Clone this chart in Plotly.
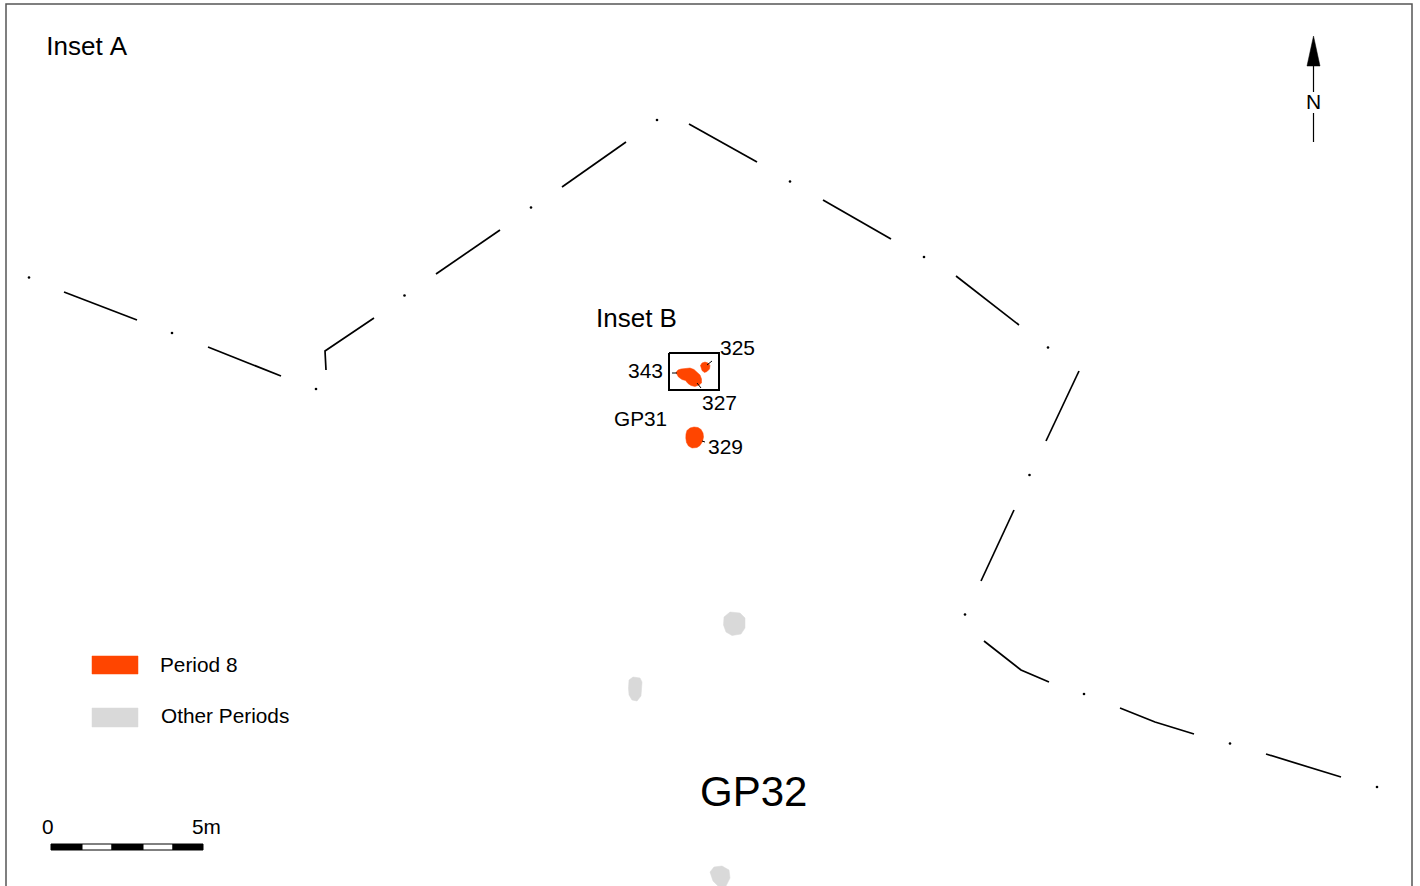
import plotly.graph_objects as go

# Map drawn in sheet units (1 unit = 1 pixel of the source plan)
wall_paths = [
    [(64, 292), (137, 320)],
    [(208, 347), (281, 376)],
    [(326, 370), (325, 351), (374, 318)],
    [(436, 274), (500, 230)],
    [(562, 187), (626, 142)],
    [(689, 124), (757, 162)],
    [(823, 200), (891, 239)],
    [(956, 276), (1019, 325)],
    [(1079, 371), (1046, 441)],
    [(1014, 510), (981, 581)],
    [(984, 641), (1021, 670), (1049, 682)],
    [(1120, 708), (1155, 722), (1194, 734)],
    [(1266, 754), (1341, 777)],
]
post_x = [29, 172, 316, 404.5, 531, 657, 790, 924, 1048, 1029.5, 965, 1084, 1230, 1377]
post_y = [277.5, 333, 389, 295.5, 207.5, 120, 181.5, 257, 347.5, 475, 614.5, 694, 743.5, 787]

period8_features = [
    [(676, 372.5), (678, 370), (681, 369), (685, 368.5), (690, 368), (694, 369.5), (697, 372), (700, 375),
     (701.5, 379), (701.5, 383), (699, 385), (695, 386.5), (691, 385.5), (688, 383.5), (685.5, 380.5),
     (682, 379.5), (678.5, 377), (677, 375)],
    [(700.5, 365.5), (702, 363), (705, 362), (708, 363), (710, 365.5), (709.5, 369), (707, 371.5),
     (704.5, 372.5), (702, 370.5)],
    [(686, 434), (687, 430.5), (690, 428), (694, 427), (698, 427.5), (701, 429.5), (703, 433), (703.5, 437),
     (702.5, 441.5), (700, 445.5), (697, 447.5), (692, 448), (688.5, 446), (686.5, 442.5), (685.8, 438)],
]
other_features = [
    [(724, 617), (730, 612), (740, 613), (745, 618), (745, 628), (741, 634), (732, 635.5), (726, 632), (723.5, 625)],
    [(629, 680), (633, 677), (640, 678), (642, 682), (641, 696), (637, 701), (632, 700), (629, 695), (628.5, 688)],
    [(710, 872), (714, 867), (722, 866), (729, 870), (730, 878), (726, 886), (718, 886), (713, 881)],
]
leaders = [
    [(672, 373), (677, 373)],
    [(697, 383), (701, 388)],
    [(707, 365), (712, 361)],
    [(702, 441), (705, 442)],
]
inset_box = [(669, 353), (719, 353), (719, 390), (669, 390), (669, 353)]
frame = [(6, 886), (6, 4), (1412, 4), (1412, 886)]

north_head = [(1313.5, 36), (1307, 66), (1320, 66)]
north_shaft = [[(1313.5, 66), (1313.5, 92)], [(1313.5, 113), (1313.5, 142)]]

legend_labels = ["Period 8", "Other Periods"]
legend_swatches = [
    [(92, 656), (138, 656), (138, 674), (92, 674)],
    [(92, 708), (138, 708), (138, 727), (92, 727)],
]
scale_edges = [51, 82, 112, 143, 173, 203]
scale_y = (844, 850)

labels = [
    ("Inset A", 47, 45.5, 26),
    ("Inset B", 596, 317.5, 26),
    ("325", 720, 347, 21),
    ("343", 628, 370, 21),
    ("327", 702, 402, 21),
    ("GP31", 614, 418, 20.8),
    ("329", 708, 446, 21),
    (legend_labels[0], 160, 664, 20.8),
    (legend_labels[1], 161, 715, 20.8),
    ("0", 42, 826, 20.8),
    ("5m", 192, 826, 20.8),
    ("GP32", 700, 791, 42),
    ("N", 1306, 101, 21),
]

ORANGE = "#FF4500"
GREY = "#D9D9D9"
INK = "#000000"


def with_breaks(paths):
    xs, ys = [], []
    for path in paths:
        xs += [p[0] for p in path] + [None]
        ys += [p[1] for p in path] + [None]
    return xs, ys


def closed(paths):
    return with_breaks([list(p) + [p[0]] for p in paths])


fig = go.Figure()


def add_lines(paths, width, color=INK):
    x, y = with_breaks(paths)
    fig.add_trace(go.Scatter(x=x, y=y, mode="lines", line=dict(color=color, width=width)))


def add_fill(paths, color):
    for path in paths:
        x, y = closed([path])
        fig.add_trace(go.Scatter(x=x[:-1], y=y[:-1], mode="lines", fill="toself", fillcolor=color,
                                 line=dict(color=color, width=0.5)))


add_lines([frame], 1.5, "#555555")
add_lines(wall_paths, 1.7)
fig.add_trace(go.Scatter(x=post_x, y=post_y, mode="markers",
                         marker=dict(color=INK, size=2.6, line=dict(width=0))))
add_fill(other_features, GREY)
add_fill(period8_features, ORANGE)
add_lines(leaders, 1)
add_lines([inset_box], 2)
add_fill([north_head], INK)
add_lines(north_shaft, 1.2)
add_fill(legend_swatches[:1], ORANGE)
add_fill(legend_swatches[1:], GREY)

for i in range(len(scale_edges) - 1):
    l, r = scale_edges[i], scale_edges[i + 1]
    box = [(l, scale_y[0]), (r, scale_y[0]), (r, scale_y[1]), (l, scale_y[1]), (l, scale_y[0])]
    x, y = [p[0] for p in box], [p[1] for p in box]
    fig.add_trace(go.Scatter(x=x, y=y, mode="lines", fill="toself",
                             fillcolor=INK if i % 2 == 0 else "#FFFFFF",
                             line=dict(color=INK, width=1)))

for text, x, y, size in labels:
    fig.add_annotation(x=x, y=y, text=text, showarrow=False, xanchor="left", yanchor="middle",
                       borderpad=0, borderwidth=0,
                       font=dict(family="Liberation Sans", size=size, color="#000000"))

fig.update_layout(
    width=1420, height=886, margin=dict(l=0, r=0, t=0, b=0),
    paper_bgcolor="#FFFFFF", plot_bgcolor="#FFFFFF", showlegend=False, hovermode=False,
    xaxis=dict(range=[0, 1420], visible=False, fixedrange=True),
    yaxis=dict(range=[886, 0], visible=False, fixedrange=True),
)
fig.write_html("out.html", config={"displayModeBar": False},
               post_script="document.body.style.margin='0';document.body.style.overflow='hidden';"
                           "var s=document.createElement('style');s.textContent='svg text{font-kerning:none}';"
                           "document.head.appendChild(s);")
